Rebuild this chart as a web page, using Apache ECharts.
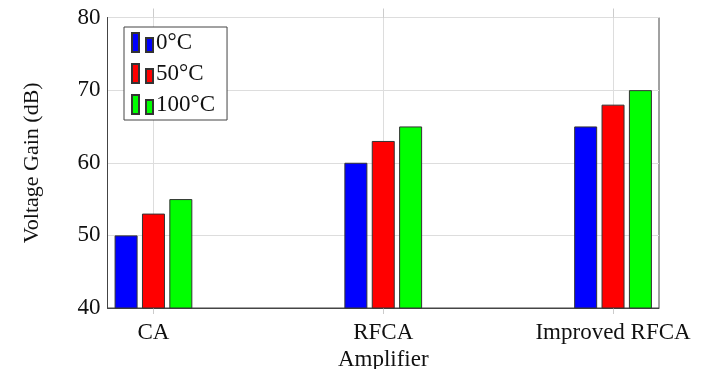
<!DOCTYPE html>
<html>
<head>
<meta charset="utf-8">
<script src="https://cdn.jsdelivr.net/npm/echarts@6/dist/echarts.min.js"></script>
<style>
  html, body { margin: 0; padding: 0; background: #fff; }
  #chart { width: 713px; height: 369px; }
</style>
</head>
<body>
<div id="chart"></div>
<script>
var categories = ['CA', 'RFCA', 'Improved RFCA'];
var seriesNames = ['0°C', '50°C', '100°C'];
var gain0 = [50, 60, 65];
var gain50 = [53, 63, 68];
var gain100 = [55, 65, 70];
var yTicks = [40, 50, 60, 70, 80];

var colors = ['#0000ff', '#ff0000', '#00ff00'];
var font = '"Liberation Serif", "DejaVu Serif", serif';
var fs = 23;
var catIdx = categories.map(function (c, i) { return i; });

function toPairs(vals) {
    return vals.map(function (v, i) { return [i, v]; });
}

function barSeries(name, vals, color) {
    return {
        name: name,
        type: 'bar',
        data: toPairs(vals),
        barWidth: 23,
        barGap: '19%',
        itemStyle: { color: color, borderColor: '#333', borderWidth: 1 }
    };
}

var legendIcon = 'path://M0,0h7v19h-7z M14,5h7v14h-7z';

var option = {
    backgroundColor: '#fff',
    animation: false,
    textStyle: { fontFamily: font },
    grid: {
        left: 107.5, right: 54, top: 17.5, bottom: 61,
        outerBoundsMode: 'none',
        show: true, borderColor: '#444', borderWidth: 1
    },
    legend: {
        orient: 'vertical',
        left: 124, top: 27,
        padding: [4, 12, 4, 7],
        itemGap: 8,
        itemWidth: 21, itemHeight: 19,
        backgroundColor: '#fff',
        borderColor: '#444', borderWidth: 1,
        textStyle: { fontFamily: font, fontSize: fs, color: '#111', padding: [0, 0, 0, -2] },
        data: seriesNames.map(function (n) { return { name: n, icon: legendIcon }; })
    },
    xAxis: [{
        type: 'value',
        min: -0.2, max: 2.2,
        name: 'Amplifier',
        nameLocation: 'middle',
        nameGap: 37,
        nameTextStyle: { fontFamily: font, fontSize: fs, color: '#111' },
        axisLine: { show: true, onZero: false, lineStyle: { color: '#444' } },
        axisTick: { show: true, customValues: catIdx, length: 6, inside: false, lineStyle: { color: '#ccc' } },
        axisLabel: {
            customValues: catIdx, margin: 13,
            fontFamily: font, fontSize: fs, color: '#111',
            formatter: function (v) { return categories[Math.round(v)]; }
        },
        splitLine: { show: true, customValues: catIdx, lineStyle: { color: '#ddd' } }
    }, {
        type: 'value',
        position: 'top',
        min: -0.2, max: 2.2,
        axisLine: { show: false },
        axisTick: { show: true, customValues: catIdx, length: 9, lineStyle: { color: '#ccc' } },
        axisLabel: { show: false },
        splitLine: { show: false }
    }],
    yAxis: {
        type: 'value',
        min: yTicks[0], max: yTicks[yTicks.length - 1], interval: 10,
        name: 'Voltage Gain (dB)',
        nameLocation: 'middle',
        nameGap: 64,
        nameTextStyle: { fontFamily: font, fontSize: 22, color: '#111' },
        axisLine: { show: true, onZero: false, lineStyle: { color: '#444' } },
        axisTick: { show: false },
        axisLabel: { margin: 7, fontFamily: font, fontSize: fs, color: '#111' },
        splitLine: { show: true, lineStyle: { color: '#ddd' } }
    },
    series: [
        barSeries(seriesNames[0], gain0, colors[0]),
        barSeries(seriesNames[1], gain50, colors[1]),
        barSeries(seriesNames[2], gain100, colors[2])
    ]
};

var chart = echarts.init(document.getElementById('chart'), null, { renderer: 'canvas' });
chart.setOption(option);
</script>
</body>
</html>
